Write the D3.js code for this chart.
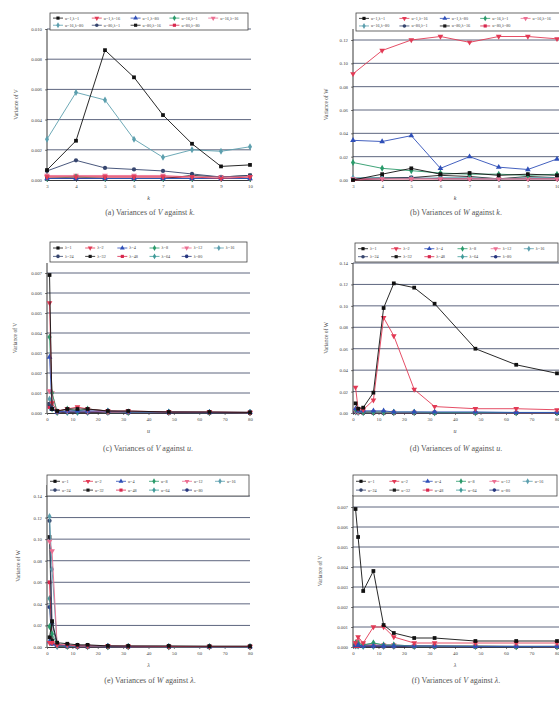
<!DOCTYPE html>
<html>
<head>
<meta charset="utf-8">
<script src="https://cdn.jsdelivr.net/npm/d3@7"></script>
<style>
  body { margin: 0; background: #fff; }
  svg { display: block; font-family: "Liberation Serif", "DejaVu Serif", serif; }
</style>
</head>
<body>
<script>
// x values
const kVals = [3, 4, 5, 6, 7, 8, 9, 10];
const gridVals = [1, 2, 4, 8, 12, 16, 24, 32, 48, 64, 80]; // used for both u and lambda

// legend labels
const comboLabels = ["u=1,λ=1", "u=1,λ=16", "u=1,λ=80", "u=16,λ=1", "u=16,λ=16",
                     "u=16,λ=80", "u=80,λ=1", "u=80,λ=16", "u=80,λ=80"];
const lambdaLabels = gridVals.map(v => "λ=" + v);
const uLabels = gridVals.map(v => "u=" + v);

// (a) variance of V against k, one row per combo
const aV = [
  [0.00066, 0.0026, 0.0086, 0.0068, 0.0043, 0.0024, 0.0009, 0.0010],
  [0.0002, 0.0002, 0.0002, 0.0002, 0.0002, 0.0002, 0.0001, 0.0002],
  [0.0001, 0.0001, 0.0001, 0.0001, 0.0001, 0.0001, 0.0001, 0.0001],
  [0.0001, 0.0002, 0.0001, 0.0001, 0.0001, 0.0001, 0.0001, 0.0001],
  [0.0003, 0.0003, 0.0003, 0.0003, 0.0003, 0.0002, 0.0002, 0.0002],
  [0.0027, 0.0058, 0.0053, 0.0027, 0.0015, 0.0020, 0.0019, 0.0022],
  [0.0006, 0.0013, 0.0008, 0.0007, 0.0006, 0.0004, 0.0002, 0.0003],
  [0.0001, 0.0001, 0.0001, 0.0001, 0.0001, 0.0003, 0.0002, 0.0003],
  [0.0002, 0.0002, 0.0002, 0.0002, 0.0002, 0.0001, 0.0001, 0.0001]
];

// (b) variance of W against k
const bW = [
  [0.000, 0.005, 0.010, 0.005, 0.006, 0.004, 0.005, 0.004],
  [0.091, 0.111, 0.120, 0.123, 0.118, 0.123, 0.123, 0.121],
  [0.034, 0.033, 0.038, 0.010, 0.020, 0.011, 0.009, 0.018],
  [0.015, 0.010, 0.008, 0.006, 0.005, 0.005, 0.004, 0.005],
  [0.001, 0.001, 0.001, 0.001, 0.001, 0.001, 0.001, 0.001],
  [0.002, 0.002, 0.001, 0.002, 0.002, 0.001, 0.002, 0.002],
  [0.001, 0.001, 0.002, 0.001, 0.001, 0.001, 0.001, 0.001],
  [0.001, 0.002, 0.002, 0.004, 0.003, 0.001, 0.003, 0.002],
  [0.000, 0.001, 0.001, 0.001, 0.001, 0.001, 0.001, 0.001]
];

// variance of V, rows = lambda, columns = u (panels c and f)
const vByLambda = [
  [0.0069, 0.0002, 0.0001, 0.0002, 0.0002, 0.0002, 0.0001, 0.0001, 0.00005, 0.00005, 0.00003],
  [0.0055, 0.0005, 0.0001, 0.0002, 0.0003, 0.0002, 0.0001, 0.0001, 0.00005, 0.00005, 0.00003],
  [0.0028, 0.0002, 0.00005, 0.0001, 0.0001, 0.0001, 0.0001, 0.00005, 0.00005, 0.00003, 0.00003],
  [0.0038, 0.0010, 0.00005, 0.0002, 0.0001, 0.0002, 0.0001, 0.00005, 0.00005, 0.00003, 0.00003],
  [0.0011, 0.0010, 0.00005, 0.0001, 0.0001, 0.0001, 0.00005, 0.00005, 0.00003, 0.00003, 0.00002],
  [0.0007, 0.0005, 0.00005, 0.0001, 0.0001, 0.0001, 0.00005, 0.00005, 0.00003, 0.00003, 0.00002],
  [0.00045, 0.0002, 0.00005, 0.00005, 0.00005, 0.00005, 0.00005, 0.00003, 0.00003, 0.00002, 0.00002],
  [0.00045, 0.0002, 0.00005, 0.00005, 0.00005, 0.00005, 0.00003, 0.00003, 0.00002, 0.00002, 0.00002],
  [0.0003, 0.0002, 0.00003, 0.00005, 0.00005, 0.00003, 0.00003, 0.00002, 0.00002, 0.00002, 0.00001],
  [0.0003, 0.0002, 0.00003, 0.00003, 0.00003, 0.00003, 0.00002, 0.00002, 0.00002, 0.00001, 0.00001],
  [0.0003, 0.0002, 0.00003, 0.00003, 0.00003, 0.00003, 0.00002, 0.00002, 0.00001, 0.00001, 0.00001]
];

// variance of W, rows = lambda, columns = u (panels d and e)
const wByLambda = [
  [0.009, 0.004, 0.005, 0.019, 0.098, 0.121, 0.117, 0.102, 0.060, 0.045, 0.037],
  [0.024, 0.004, 0.003, 0.012, 0.089, 0.072, 0.022, 0.006, 0.004, 0.004, 0.003],
  [0.004, 0.002, 0.002, 0.002, 0.002, 0.001, 0.001, 0.001, 0.001, 0.0005, 0.0005],
  [0.003, 0.002, 0.001, 0.001, 0.001, 0.0008, 0.0008, 0.0005, 0.0005, 0.0005, 0.0005],
  [0.002, 0.001, 0.001, 0.001, 0.0008, 0.0005, 0.0005, 0.0005, 0.0003, 0.0003, 0.0003],
  [0.002, 0.001, 0.001, 0.0008, 0.0005, 0.0005, 0.0005, 0.0003, 0.0003, 0.0003, 0.0003],
  [0.001, 0.001, 0.0008, 0.0005, 0.0005, 0.0003, 0.0003, 0.0003, 0.0002, 0.0002, 0.0002],
  [0.001, 0.0008, 0.0005, 0.0005, 0.0003, 0.0003, 0.0003, 0.0002, 0.0002, 0.0002, 0.0002],
  [0.001, 0.0005, 0.0005, 0.0003, 0.0003, 0.0002, 0.0002, 0.0002, 0.0002, 0.0001, 0.0001],
  [0.0008, 0.0005, 0.0003, 0.0003, 0.0002, 0.0002, 0.0002, 0.0001, 0.0001, 0.0001, 0.0001],
  [0.0008, 0.0005, 0.0003, 0.0002, 0.0002, 0.0002, 0.0001, 0.0001, 0.0001, 0.0001, 0.0001]
];

const transpose = m => m[0].map((_, j) => m.map(r => r[j]));

const colors = ["#111111", "#e23a55", "#2f4fb8", "#2a9a6a", "#ec6f92", "#5c9fae",
                "#36456e", "#1a1a1a", "#d8284e", "#3f9a98", "#26367f"];
const symbols = [d3.symbolSquare, d3.symbolTriangle, d3.symbolTriangle, d3.symbolDiamond,
                 d3.symbolTriangle, d3.symbolDiamond, d3.symbolCircle, d3.symbolSquare,
                 d3.symbolSquare, d3.symbolDiamond, d3.symbolCircle];
const flips = [0, 180, 0, 0, 180, 0, 0, 0, 0, 0, 0];

const panels = [
  { letter: "a", v: "V", x: "k", ylab: "Variance of V", xs: kVals, rows: aV, labels: comboLabels,
    left: 47, right: 250, gridRight: 251, bottom: 180, topTick: 29, axisTop: 29,
    yMax: 0.010, yStep: 0.002, fmt: ".3f", xDomain: [3, 10], xTicks: kVals,
    legend: [50, 13, 198, 17], perRow: 5, ylabX: 18, capX: 150, capY: 215, xlabY: 200 },
  { letter: "b", v: "W", x: "k", ylab: "Variance of W", xs: kVals, rows: bW, labels: comboLabels,
    left: 353, right: 557, gridRight: 559, bottom: 180, topTick: 40, axisTop: 29,
    yMax: 0.12, yStep: 0.02, fmt: ".2f", xDomain: [3, 10], xTicks: kVals,
    legend: [356, 13, 206, 18], perRow: 5, ylabX: 328, capX: 456, capY: 215, xlabY: 200 },
  { letter: "c", v: "V", x: "u", ylab: "Variance of V", xs: gridVals, rows: vByLambda, labels: lambdaLabels,
    left: 47, right: 250, gridRight: 250, bottom: 413, topTick: 273, axisTop: 263,
    yMax: 0.007, yStep: 0.001, fmt: ".3f", xDomain: [0, 80], xTicks: d3.range(0, 81, 10),
    legend: [50, 242, 197, 20], perRow: 6, ylabX: 17, capX: 148, capY: 451, xlabY: 433 },
  { letter: "d", v: "W", x: "u", ylab: "Variance of W", xs: gridVals, rows: wByLambda, labels: lambdaLabels,
    left: 353, right: 557, gridRight: 559, bottom: 413, topTick: 263, axisTop: 263,
    yMax: 0.14, yStep: 0.02, fmt: ".2f", xDomain: [0, 80], xTicks: d3.range(0, 81, 10),
    legend: [355, 243, 203, 19], perRow: 6, ylabX: 328, capX: 456, capY: 451, xlabY: 433 },
  { letter: "e", v: "W", x: "λ", ylab: "Variance of W", xs: gridVals, rows: transpose(wByLambda), labels: uLabels,
    left: 47, right: 250, gridRight: 250, bottom: 647, topTick: 496, axisTop: 485,
    yMax: 0.14, yStep: 0.02, fmt: ".2f", xDomain: [0, 80], xTicks: d3.range(0, 81, 10),
    legend: [47, 475, 202, 21], perRow: 6, ylabX: 20, capX: 150, capY: 683, xlabY: 667 },
  { letter: "f", v: "V", x: "λ", ylab: "Variance of V", xs: gridVals, rows: transpose(vByLambda), labels: uLabels,
    left: 353, right: 557, gridRight: 559, bottom: 647, topTick: 507, axisTop: 495,
    yMax: 0.007, yStep: 0.001, fmt: ".3f", xDomain: [0, 80], xTicks: d3.range(0, 81, 10),
    legend: [353, 475, 204, 21], perRow: 6, ylabX: 322, capX: 456, capY: 683, xlabY: 667 }
];

const svg = d3.select("body").append("svg")
  .attr("width", 559)
  .attr("height", 702);

svg.append("rect").attr("width", 559).attr("height", 702).attr("fill", "#fff");

function marker(i, size) {
  return d3.symbol().type(symbols[i % symbols.length]).size(size)();
}

function drawPanel(p) {
  const g = svg.append("g");
  const x = d3.scaleLinear().domain(p.xDomain).range([p.left, p.right]);
  const y = d3.scaleLinear().domain([0, p.yMax]).range([p.bottom, p.topTick]);
  const yTicks = d3.range(0, p.yMax + p.yStep / 2, p.yStep);

  // grid lines
  g.selectAll(".grid")
    .data(yTicks.slice(1))
    .join("line")
    .attr("x1", p.left)
    .attr("x2", p.gridRight)
    .attr("y1", d => y(d))
    .attr("y2", d => y(d))
    .attr("stroke", "#4c5570")
    .attr("stroke-width", 0.9);

  // y axis
  const yAxis = g.append("g")
    .attr("transform", `translate(${p.left},0)`)
    .call(d3.axisLeft(y).tickValues(yTicks).tickSize(2).tickSizeOuter(0).tickFormat(d3.format(p.fmt)));
  yAxis.select(".domain").remove();
  yAxis.selectAll("text").attr("font-size", 4.8).attr("fill", "#444").attr("font-family", "Liberation Serif");
  yAxis.selectAll("line").attr("stroke", "#222").attr("stroke-width", 0.6);

  g.append("line")
    .attr("x1", p.left).attr("x2", p.left)
    .attr("y1", p.bottom).attr("y2", p.axisTop)
    .attr("stroke", "#222").attr("stroke-width", 0.9);

  // x axis
  const xAxis = g.append("g")
    .attr("transform", `translate(0,${p.bottom})`)
    .call(d3.axisBottom(x).tickValues(p.xTicks).tickSize(2).tickSizeOuter(0).tickFormat(d3.format("d")));
  xAxis.select(".domain").attr("stroke", "#222").attr("stroke-width", 0.9);
  xAxis.selectAll("text").attr("font-size", 4.8).attr("fill", "#444").attr("font-family", "Liberation Serif");
  xAxis.selectAll("line").attr("stroke", "#222").attr("stroke-width", 0.6);

  // series, first series drawn last so it sits on top
  const line = d3.line().x(d => x(d[0])).y(d => y(d[1]));
  const series = p.rows.map((row, i) => ({ i, pts: row.map((v, j) => [p.xs[j], v]) })).reverse();

  series.forEach(s => {
    g.append("path")
      .datum(s.pts)
      .attr("d", line)
      .attr("fill", "none")
      .attr("stroke", colors[s.i % colors.length])
      .attr("stroke-width", 0.9);
    g.selectAll(null)
      .data(s.pts)
      .join("path")
      .attr("d", marker(s.i, 14))
      .attr("transform", d => `translate(${x(d[0])},${y(d[1])}) rotate(${flips[s.i]})`)
      .attr("fill", colors[s.i % colors.length]);
  });

  // legend box
  const [lx, ly, lw, lh] = p.legend;
  const leg = g.append("g");
  leg.append("rect")
    .attr("x", lx).attr("y", ly).attr("width", lw).attr("height", lh)
    .attr("fill", "#fff").attr("stroke", "#444").attr("stroke-width", 0.8);
  const colW = (lw - 4) / p.perRow;
  p.labels.forEach((lab, i) => {
    const r = Math.floor(i / p.perRow), c = i % p.perRow;
    const ex = lx + 3 + c * colW;
    const ey = ly + lh * (r === 0 ? 0.3 : 0.72);
    leg.append("line")
      .attr("x1", ex).attr("x2", ex + 10)
      .attr("y1", ey).attr("y2", ey)
      .attr("stroke", colors[i % colors.length]).attr("stroke-width", 0.8);
    leg.append("path")
      .attr("d", marker(i, 10))
      .attr("transform", `translate(${ex + 5},${ey}) rotate(${flips[i]})`)
      .attr("fill", colors[i % colors.length]);
    leg.append("text")
      .attr("x", ex + 12).attr("y", ey)
      .attr("dy", "0.35em")
      .attr("font-size", 4.2)
      .attr("fill", "#444")
      .text(lab);
  });

  // axis labels
  g.append("text")
    .attr("transform", `translate(${p.ylabX},${(p.bottom + p.axisTop) / 2}) rotate(-90)`)
    .attr("text-anchor", "middle")
    .attr("font-size", 5.5)
    .attr("fill", "#444")
    .text(p.ylab);

  g.append("text")
    .attr("x", (p.left + p.right) / 2)
    .attr("y", p.xlabY)
    .attr("text-anchor", "middle")
    .attr("font-size", 6)
    .attr("font-style", "italic")
    .attr("fill", "#444")
    .text(p.x);

  // caption
  const cap = g.append("text")
    .attr("x", p.capX)
    .attr("y", p.capY)
    .attr("text-anchor", "middle")
    .attr("font-size", 8)
    .attr("fill", "#555");
  cap.append("tspan").text(`(${p.letter}) Variances of `);
  cap.append("tspan").attr("font-style", "italic").text(p.v);
  cap.append("tspan").text(" against ");
  cap.append("tspan").attr("font-style", "italic").text(p.x);
  cap.append("tspan").text(".");
}

panels.forEach(drawPanel);
</script>
</body>
</html>
